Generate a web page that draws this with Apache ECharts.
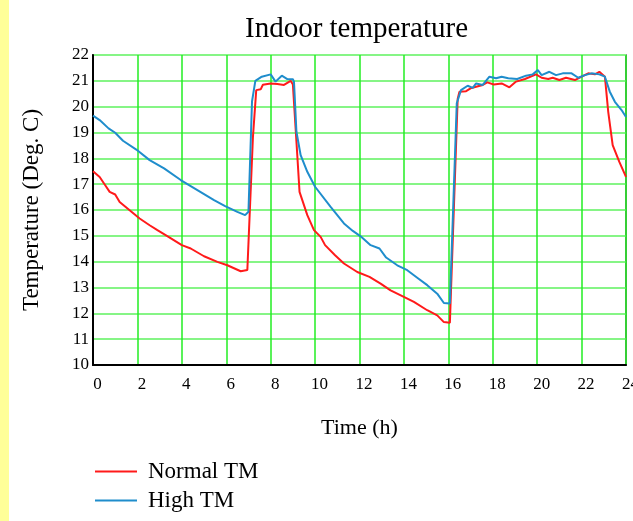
<!DOCTYPE html>
<html>
<head>
<meta charset="utf-8">
<title>Indoor temperature</title>
<script src="https://cdn.jsdelivr.net/npm/echarts@6/dist/echarts.min.js"></script>
<style>
    html, body { margin: 0; padding: 0; background: #fff; }
    #chart { width: 633px; height: 521px; }
</style>
</head>
<body>
<div id="chart"></div>
<script>
// time ticks (h)
var hourTicks = [0, 2, 4, 6, 8, 10, 12, 14, 16, 18, 20, 22, 24];

// Normal TM
var normalHours = [0, 0.3, 0.55, 0.75, 1.0, 1.2, 1.65, 2.1, 2.55, 2.9, 3.4, 4.0, 4.4, 5.0, 5.6,
    6.05, 6.65, 6.95, 7.03, 7.2, 7.35, 7.55, 7.65, 8.0, 8.3, 8.6, 8.9, 9.0, 9.2, 9.3,
    9.65, 9.95, 10.25, 10.45, 10.9, 11.3, 11.9, 12.45, 12.95, 13.4, 13.95, 14.45, 15.05, 15.5, 15.8,
    16.07, 16.42, 16.5, 16.8, 17.0, 17.25, 17.55, 17.75, 18.05, 18.4, 18.75, 19.05, 19.45, 19.95, 20.2,
    20.5, 20.7, 21.0, 21.3, 21.7, 22.0, 22.3, 22.6, 22.8, 23.05, 23.2, 23.4, 23.7, 24.0];
var normalTemp = [17.5, 17.28, 16.96, 16.7, 16.6, 16.31, 15.99, 15.67, 15.41, 15.22, 14.96, 14.64, 14.51, 14.21, 13.99,
    13.86, 13.63, 13.68, 13.7, 18.8, 20.64, 20.67, 20.85, 20.9, 20.88, 20.84, 21.0, 20.86, 18.1, 16.7,
    15.8, 15.22, 14.96, 14.64, 14.25, 13.93, 13.6, 13.41, 13.15, 12.89, 12.66, 12.44, 12.12, 11.92, 11.66,
    11.64, 20.3, 20.58, 20.6, 20.71, 20.77, 20.84, 20.94, 20.86, 20.9, 20.75, 20.97, 21.07, 21.25, 21.12,
    21.07, 21.12, 21.03, 21.12, 21.03, 21.16, 21.29, 21.25, 21.35, 21.16, 19.8, 18.51, 17.86, 17.28];

// High TM
var highHours = [0, 0.3, 0.7, 1.0, 1.35, 1.95, 2.55, 3.2, 3.95, 4.7, 5.45, 5.95, 6.5, 6.85, 7.0,
    7.16, 7.31, 7.6, 8.0, 8.22, 8.5, 8.75, 9.0, 9.05, 9.16, 9.35, 9.65, 10.0, 10.7, 11.3,
    11.7, 12.05, 12.5, 12.9, 13.2, 13.7, 14.15, 14.6, 15.05, 15.5, 15.8, 16.07, 16.38, 16.57,
    16.87, 17.1, 17.25, 17.55, 17.85, 18.15, 18.4, 18.7, 19.1, 19.5, 19.8, 20.03, 20.2, 20.55, 20.85,
    21.15, 21.55, 21.85, 22.15, 22.45, 22.8, 23.05, 23.27, 23.5, 23.8, 24.0];
var highTemp = [19.65, 19.48, 19.16, 18.99, 18.68, 18.34, 17.93, 17.61, 17.16, 16.77, 16.38, 16.15, 15.93, 15.8, 15.93,
    20.2, 21.0, 21.16, 21.25, 20.97, 21.2, 21.07, 21.06, 20.97, 19.03, 18.12, 17.48, 16.9, 16.12, 15.48,
    15.19, 14.98, 14.64, 14.51, 14.16, 13.86, 13.67, 13.38, 13.09, 12.76, 12.4, 12.38, 20.13, 20.64,
    20.81, 20.73, 20.9, 20.84, 21.16, 21.1, 21.16, 21.1, 21.07, 21.2, 21.25, 21.42, 21.22, 21.35, 21.22,
    21.29, 21.29, 21.12, 21.22, 21.29, 21.25, 21.16, 20.58, 20.19, 19.87, 19.6];

var serif = "'Liberation Serif', 'DejaVu Serif', serif";

function pairs(xs, ys) {
    var out = [];
    for (var i = 0; i < xs.length; i++) {
        out.push([xs[i], ys[i]]);
    }
    return out;
}

var myChart = echarts.init(document.getElementById("chart"), null, {renderer: 'canvas'});

var option = {
    backgroundColor: '#ffffff',
    animation: false,
    title: {
        text: 'Indoor temperature',
        left: 240,
        top: 10,
        textStyle: {
            fontFamily: serif,
            fontWeight: 'normal',
            fontSize: 29,
            color: '#000'
        }
    },
    // yellow strip on the left edge
    graphic: [{
        type: 'rect',
        left: 0,
        top: 0,
        shape: {width: 9, height: 521},
        style: {fill: '#ffff99'}
    }],
    legend: {
        orient: 'vertical',
        left: 90,
        top: 455,
        icon: 'rect',
        itemWidth: 42,
        itemHeight: 2,
        itemGap: 6,
        textStyle: {
            fontFamily: serif,
            fontSize: 23,
            color: '#000',
            padding: [0, 0, 0, 6]
        },
        data: ['Normal TM', 'High TM']
    },
    grid: {
        left: 93,
        right: 7,
        top: 55,
        bottom: 156,
        outerBoundsMode: 'none',
        show: true,
        borderColor: '#444',
        borderWidth: 1.5
    },
    xAxis: {
        type: 'value',
        min: 0,
        max: 24,
        interval: 2,
        name: 'Time (h)',
        nameLocation: 'middle',
        nameGap: 52,
        nameTextStyle: {fontFamily: serif, fontSize: 22, color: '#000'},
        axisLine: {show: true, lineStyle: {color: '#000', width: 2}},
        axisTick: {show: false},
        axisLabel: {
            margin: 11,
            fontFamily: serif,
            fontSize: 17,
            color: '#000',
            padding: [0, 0, 0, 9],
            hideOverlap: false,
            formatter: function (v) {
                return hourTicks.indexOf(v) >= 0 ? String(v) : '';
            }
        },
        splitLine: {show: true, lineStyle: {color: '#22ee22', width: 1.5}}
    },
    yAxis: {
        type: 'value',
        min: 10,
        max: 22,
        interval: 1,
        name: 'Temperature (Deg. C)',
        nameLocation: 'middle',
        nameRotate: 90,
        nameGap: 50,
        nameTextStyle: {fontFamily: serif, fontSize: 23, color: '#000'},
        axisLine: {show: true, onZero: false, lineStyle: {color: '#000', width: 2}},
        axisTick: {show: false},
        axisLabel: {
            margin: 4,
            fontFamily: serif,
            fontSize: 17,
            color: '#000'
        },
        splitLine: {show: true, lineStyle: {color: '#86f586', width: 2}}
    },
    series: [
        {
            name: 'Normal TM',
            type: 'line',
            symbol: 'none',
            color: '#ff1a1a',
            lineStyle: {width: 2, color: '#ff1a1a'},
            data: pairs(normalHours, normalTemp)
        },
        {
            name: 'High TM',
            type: 'line',
            symbol: 'none',
            color: '#1f8dcc',
            lineStyle: {width: 2, color: '#1f8dcc'},
            data: pairs(highHours, highTemp)
        }
    ]
};

myChart.setOption(option);
</script>
</body>
</html>
